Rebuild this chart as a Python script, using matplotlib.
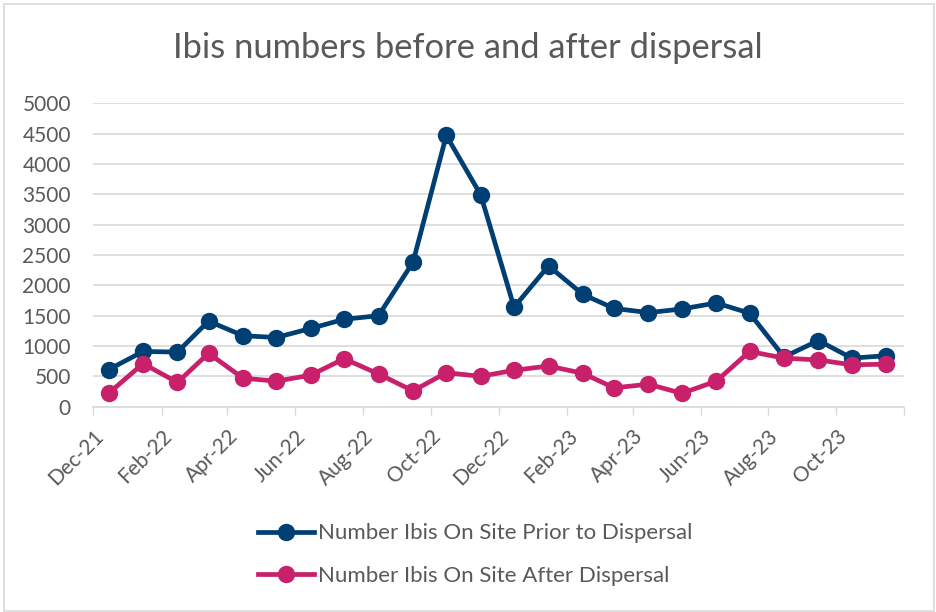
"""Ibis numbers before and after dispersal."""

import matplotlib
import matplotlib.pyplot as plt
import matplotlib.dates as mdates
import pandas as pd
from matplotlib.patches import Rectangle

matplotlib.use("Agg")

# Survey dates (monthly, mid-month), Dec 2021 to Nov 2023
dates = pd.date_range("2021-12-01", periods=24, freq="MS") + pd.Timedelta(days=14)

prior = [610, 910, 900, 1410, 1170, 1140, 1290, 1440, 1500, 2380, 4470, 3490,
         1640, 2320, 1850, 1620, 1550, 1610, 1710, 1540, 820, 1090, 800, 840]
after = [220, 710, 400, 880, 470, 420, 520, 790, 540, 260, 560, 500,
         600, 670, 550, 310, 370, 220, 420, 910, 800, 770, 690, 700]

series_names = [
    "Number Ibis On Site Prior to Dispersal",
    "Number Ibis On Site After Dispersal",
]

plt.rcParams["font.family"] = ["Lato", "DejaVu Sans"]
text_color = "#595959"
grid_color = "#d9d9d9"

fig = plt.figure(figsize=(9.36, 6.12), dpi=100)
ax = fig.add_axes([0.0994, 0.3355, 0.8664, 0.4957])

ax.plot(dates, prior, color="#003f73", linewidth=3.4, marker="o", markersize=11.5,
        label=series_names[0], zorder=3, clip_on=False)
ax.plot(dates, after, color="#c8206a", linewidth=3.4, marker="o", markersize=11.5,
        label=series_names[1], zorder=4, clip_on=False)

# Axes ranges
ax.set_xlim(pd.Timestamp("2021-12-01"), pd.Timestamp("2023-12-01"))
ax.set_ylim(0, 5000)
ax.set_yticks(range(0, 5001, 500))

ax.xaxis.set_major_locator(mdates.MonthLocator(bymonth=[2, 4, 6, 8, 10, 12]))
ax.xaxis.set_major_formatter(mdates.DateFormatter("%b-%y"))

# Hide the Dec-23 label at the right edge
fig.canvas.draw()
for lbl in ax.get_xticklabels():
    if lbl.get_text() == "Dec-23":
        lbl.set_visible(False)

plt.setp(ax.get_xticklabels(), rotation=45, ha="right", rotation_mode="anchor")
ax.tick_params(axis="x", colors=grid_color, labelcolor=text_color, labelsize=15,
               length=6, width=1, direction="out", pad=8)
ax.tick_params(axis="y", length=0, labelcolor=text_color, labelsize=15, pad=16)

ax.grid(axis="y", color=grid_color, linewidth=1.2)
ax.set_axisbelow(True)
for side in ["top", "right", "left"]:
    ax.spines[side].set_visible(False)
ax.spines["bottom"].set_color(grid_color)
ax.spines["bottom"].set_linewidth(1.2)

fig.text(0.5, 0.922, "Ibis numbers before and after dispersal", ha="center",
         va="center", fontsize=24.8, color=text_color)

fig.legend(loc="center", bbox_to_anchor=(0.508, 0.094), ncol=1, frameon=False,
           fontsize=16, labelcolor=text_color, handlelength=2.5,
           handletextpad=0.2, labelspacing=1.0)

# Chart area border
fig.patches.append(Rectangle((0.004, 0.002), 0.994, 0.992, transform=fig.transFigure,
                             fill=False, edgecolor=grid_color, linewidth=1.2))

fig.savefig("out.png", dpi=100)
plt.close(fig)
